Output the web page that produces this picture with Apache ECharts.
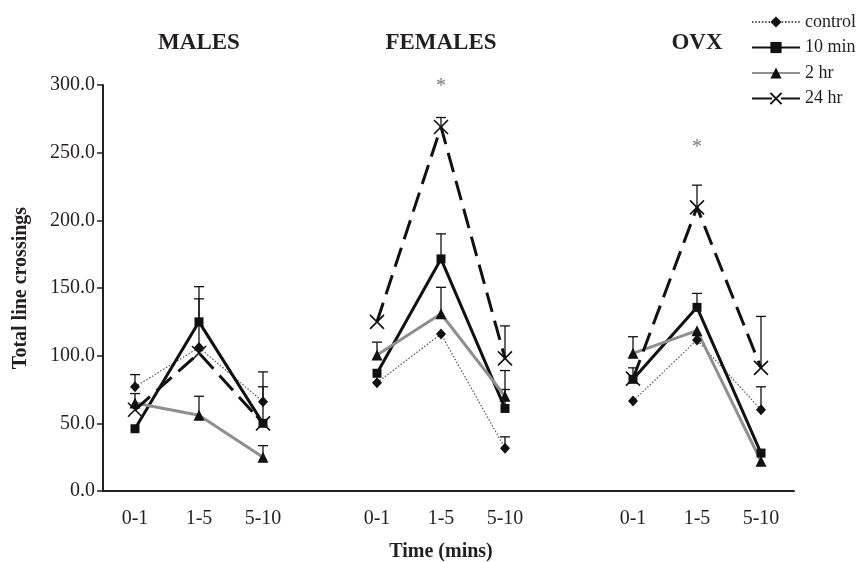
<!DOCTYPE html>
<html>
<head>
<meta charset="utf-8">
<script src="https://cdn.jsdelivr.net/npm/echarts@6/dist/echarts.min.js"></script>
<style>
    html, body { margin: 0; padding: 0; background: #fff; }
    #chart { width: 862px; height: 562px; }
</style>
</head>
<body>
<div id="chart"></div>
<script>
// categories and group names
const categories = ['0-1', '1-5', '5-10'];
const groups = ['MALES', 'FEMALES', 'OVX'];
const yTicks = [0, 50, 100, 150, 200, 250, 300];

// mean line crossings, one row per group (males, females, ovx)
const control = [[77, 106, 66], [80, 116, 31.5], [66.5, 111.6, 60]];
const min10 = [[46, 125, 50], [87, 171.5, 61], [82.5, 135.7, 28]];
const hr2 = [[65, 56, 25], [100.5, 131, 70], [101.7, 118.5, 22]];
const hr24 = [[60, 102, 50], [125, 269, 98], [83, 209.6, 91]];

// upper error bars (null = not drawn)
const controlErr = [[9, null, 11], [null, null, 8.5], [null, null, 17]];
const min10Err = [[null, 26, null], [null, 18.5, 14], [8.5, 10.3, null]];
const hr2Err = [[7, 14, 8.5], [9.5, 19.5, 19], [12.3, null, null]];
const hr24Err = [[null, 40, 38], [null, 7, 24], [null, 16.4, 38]];

// significance marks: [group, category index, value]
const stars = [[1, 1, 299], [2, 1, 254]];

const FONT = 'Liberation Serif';
const INK = '#231f20';

const chart = echarts.init(document.getElementById('chart'));

const GRID_TOP = 85;
const GRID_H = 406;
const groupLeft = [103, 345, 601];
const GROUP_W = 192;

const styles = {
    control: {
        lineStyle: { color: '#555', width: 1.2, type: [1.5, 1.8] },
        symbol: 'diamond', symbolSize: [10, 11]
    },
    '10 min': {
        lineStyle: { color: '#111', width: 3, type: 'solid' },
        symbol: 'rect', symbolSize: 9
    },
    '2 hr': {
        lineStyle: { color: '#8f8f8f', width: 3, type: 'solid' },
        symbol: 'triangle', symbolSize: 11
    },
    '24 hr': {
        lineStyle: { color: '#111', width: 3, type: [20, 9] },
        symbol: 'path://M0,0L10,10M10,0L0,10', symbolSize: 14
    }
};

const seriesDefs = [
    { name: 'control', data: control, err: controlErr },
    { name: '10 min', data: min10, err: min10Err },
    { name: '2 hr', data: hr2, err: hr2Err },
    { name: '24 hr', data: hr24, err: hr24Err }
];

const grids = [{ left: 103, width: 691, top: GRID_TOP, height: GRID_H }];
const xAxes = [{
    gridIndex: 0, type: 'value', min: 0, max: 1,
    axisLine: { lineStyle: { color: INK, width: 2 } },
    axisTick: { show: false }, axisLabel: { show: false }, splitLine: { show: false }
}];
const yAxes = [{
    gridIndex: 0, type: 'value', min: 0, max: 300, interval: 50,
    name: 'Total line crossings', nameLocation: 'middle', nameGap: 72,
    nameTextStyle: { fontFamily: FONT, fontWeight: 'bold', fontSize: 20, color: INK },
    axisLine: { show: true, lineStyle: { color: INK, width: 2 } },
    axisTick: { show: true, length: 6, lineStyle: { color: INK, width: 1.5 } },
    axisLabel: {
        margin: 8, fontFamily: FONT, fontSize: 20, color: INK,
        formatter: v => yTicks.indexOf(v) >= 0 ? v.toFixed(1) : ''
    },
    splitLine: { show: false }
}];

groups.forEach((g, i) => {
    grids.push({ left: groupLeft[i], width: GROUP_W, top: GRID_TOP, height: GRID_H });
    xAxes.push({
        gridIndex: i + 1, type: 'category', data: categories, boundaryGap: true,
        axisLine: { show: false }, axisTick: { show: false },
        axisLabel: { margin: 18, fontFamily: FONT, fontSize: 20, color: INK }
    });
    yAxes.push({ gridIndex: i + 1, type: 'value', min: 0, max: 300, show: false });
});

const series = [];

groups.forEach((g, gi) => {
    seriesDefs.forEach(def => {
        const st = styles[def.name];
        series.push({
            name: def.name,
            type: 'line',
            xAxisIndex: gi + 1,
            yAxisIndex: gi + 1,
            data: def.data[gi],
            symbol: st.symbol,
            symbolSize: st.symbolSize,
            showAllSymbol: true,
            lineStyle: st.lineStyle,
            itemStyle: def.name === '24 hr'
                ? { color: 'rgba(0,0,0,0)', borderColor: '#111', borderWidth: 1.6 }
                : { color: '#111', borderWidth: 0 },
            emphasis: { disabled: true },
            animation: false,
            z: 3
        });
        const errData = [];
        def.err[gi].forEach((e, ci) => {
            if (e !== null) errData.push([ci, def.data[gi][ci], e]);
        });
        series.push({
            type: 'custom',
            xAxisIndex: gi + 1,
            yAxisIndex: gi + 1,
            data: errData,
            animation: false,
            z: 2,
            renderItem: (params, api) => {
                const base = api.coord([api.value(0), api.value(1)]);
                const top = api.coord([api.value(0), api.value(1) + api.value(2)]);
                const s = { stroke: '#111', lineWidth: 1.3 };
                return {
                    type: 'group',
                    children: [
                        { type: 'line', shape: { x1: base[0], y1: base[1], x2: top[0], y2: top[1] }, style: s },
                        { type: 'line', shape: { x1: top[0] - 5, y1: top[1], x2: top[0] + 5, y2: top[1] }, style: s }
                    ]
                };
            }
        });
    });
});

stars.forEach(s => {
    series.push({
        type: 'scatter',
        xAxisIndex: s[0] + 1,
        yAxisIndex: s[0] + 1,
        data: [[s[1], s[2]]],
        symbolSize: 1,
        itemStyle: { color: 'rgba(0,0,0,0)' },
        clip: false,
        silent: true,
        animation: false,
        label: {
            show: true, position: 'inside', formatter: '*',
            fontFamily: FONT, fontSize: 20, color: '#555'
        }
    });
});

const textGraphics = groups.map((g, i) => ({
    type: 'text',
    x: groupLeft[i] + GROUP_W / 2,
    y: 43,
    style: {
        text: g, fontFamily: FONT, fontWeight: 'bold', fontSize: 23,
        fill: INK, align: 'center', verticalAlign: 'middle'
    }
}));
textGraphics.push({
    type: 'text',
    x: groupLeft[1] + GROUP_W / 2,
    y: 552,
    style: {
        text: 'Time (mins)', fontFamily: FONT, fontWeight: 'bold', fontSize: 20,
        fill: INK, align: 'center', verticalAlign: 'middle'
    }
});

const option = {
    backgroundColor: '#fff',
    animation: false,
    legend: {
        orient: 'vertical',
        left: 746,
        top: 8,
        itemWidth: 48,
        itemHeight: 14,
        itemGap: 7.5,
        textStyle: { fontFamily: FONT, fontSize: 18, color: INK },
        data: seriesDefs.map(d => d.name),
        selectedMode: false
    },
    grid: grids,
    xAxis: xAxes,
    yAxis: yAxes,
    graphic: textGraphics,
    series: series
};

chart.setOption(option);
</script>
</body>
</html>
